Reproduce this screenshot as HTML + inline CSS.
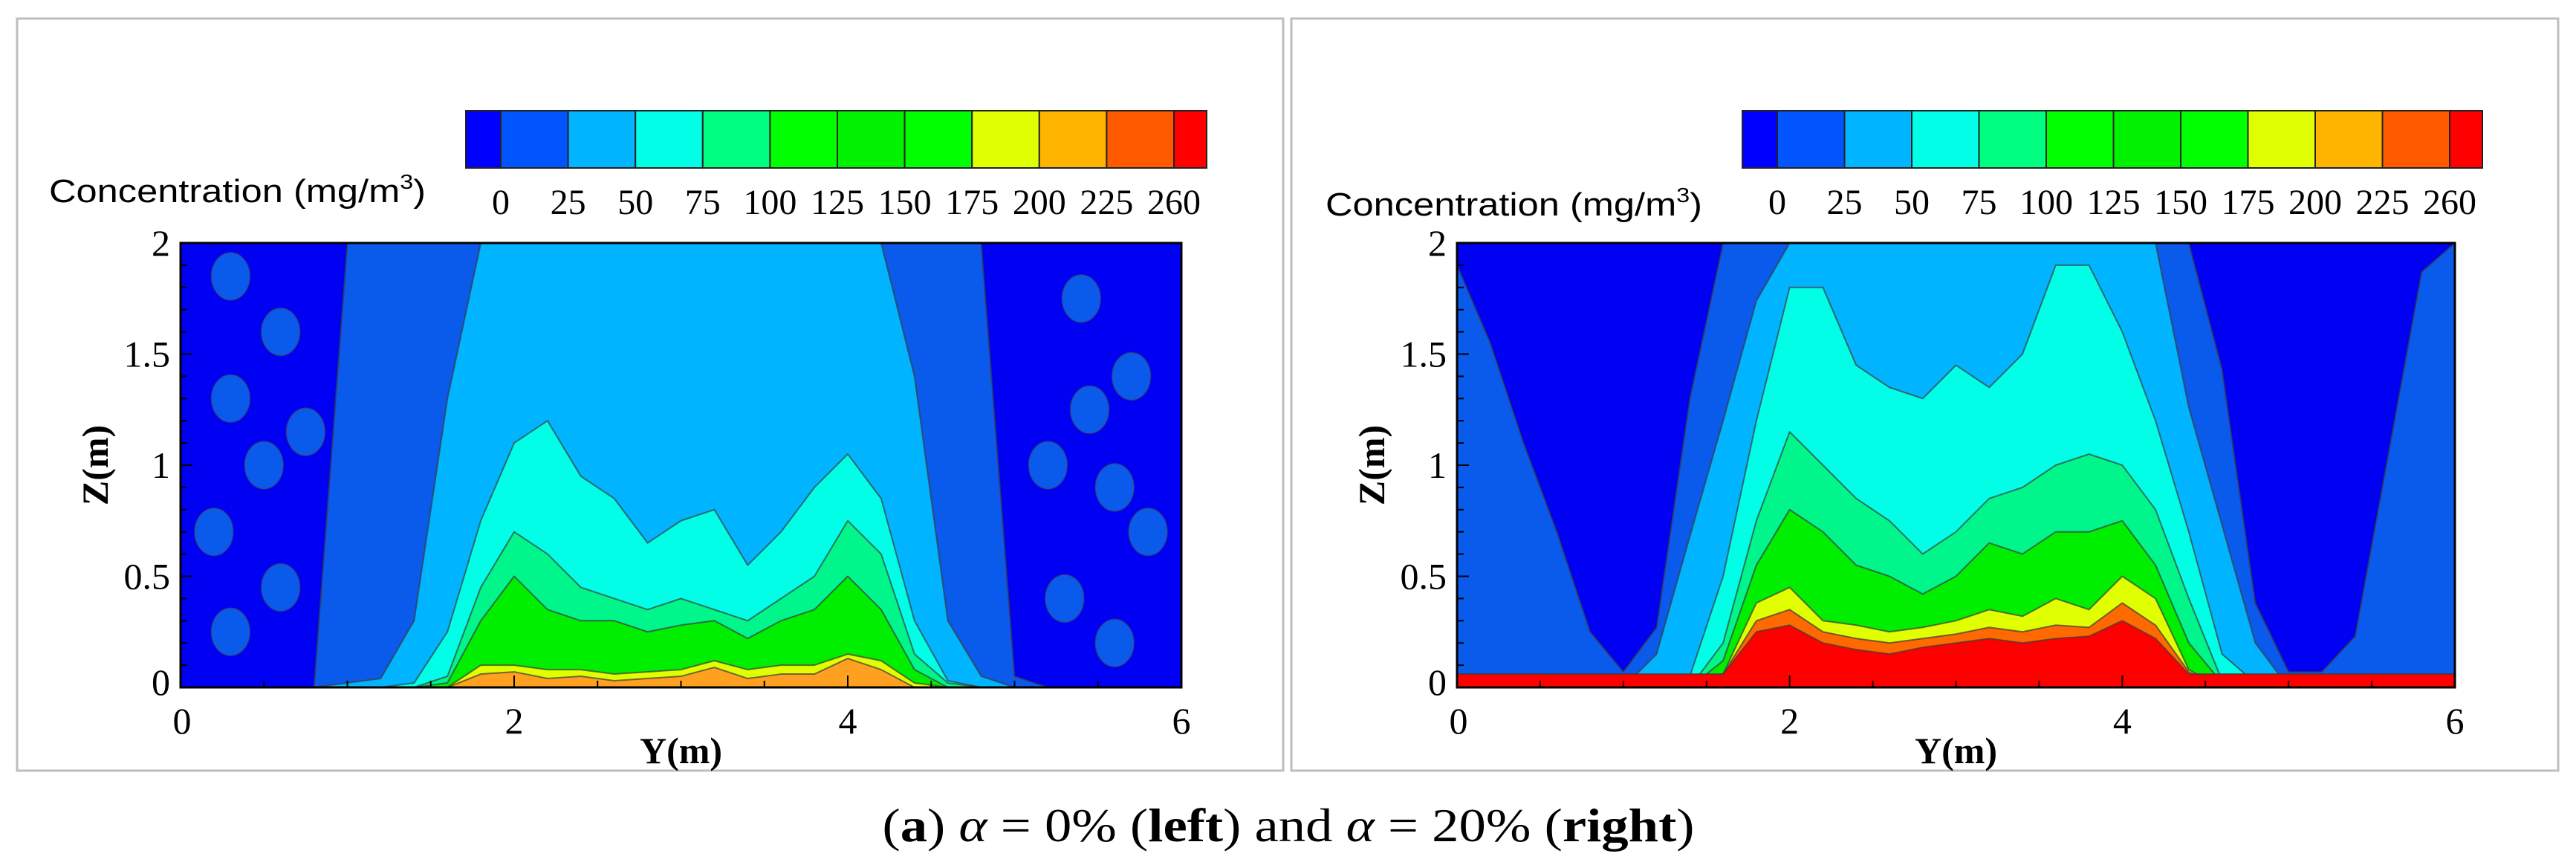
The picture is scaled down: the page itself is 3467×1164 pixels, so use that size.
<!DOCTYPE html>
<html><head><meta charset="utf-8"><style>
html,body{margin:0;padding:0;background:#fff;}
svg{display:block;}
.serif{font-family:"Liberation Serif","Times New Roman",serif;}
.sans{font-family:"Liberation Sans",Arial,sans-serif;}
</style></head><body>
<svg id="fig" width="3467" height="1164" viewBox="0 0 3467 1164" xmlns="http://www.w3.org/2000/svg">
<rect x="0" y="0" width="3467" height="1164" fill="#fff"/>
<rect x="23" y="25" width="1704" height="1012" fill="none" stroke="#bdbdbd" stroke-width="3"/>
<rect x="1738" y="25" width="1705" height="1012" fill="none" stroke="#bdbdbd" stroke-width="3"/>
<g id="left"></g>
<g id="right"></g>
<text class="serif" x="1734" y="1132" text-anchor="middle" font-size="64" textLength="1093" lengthAdjust="spacingAndGlyphs">(<tspan font-weight="bold">a</tspan>) <tspan font-style="italic">α</tspan> = 0% (<tspan font-weight="bold">left</tspan>) and <tspan font-style="italic">α</tspan> = 20% (<tspan font-weight="bold">right</tspan>)</text>
</svg>
<script>
// shared data
const yPos = [0,0.2,0.4,0.6,0.8,1.0,1.2,1.4,1.6,1.8,2.0,2.2,2.4,2.6,2.8,3.0,3.2,3.4,3.6,3.8,4.0,4.2,4.4,4.6,4.8,5.0,5.2,5.4,5.6,5.8,6.0];
const cbarLabels = ["0","25","50","75","100","125","150","175","200","225","260"];
const cbarColors = ["#0000ff","#0055ff","#00b4ff","#00ffe6","#00ff80","#00ff00","#00f200","#00ff00","#e0ff00","#ffb400","#ff5a00","#ff0000"];
const xTicks = [0,2,4,6];
const zTicks = [0,0.5,1,1.5,2];
const zTickLabels = ["0","0.5","1","1.5","2"];

// left panel (alpha = 0%) band tops (m)
const L_medBlue   = [0,0,0,0,0,2,2,2,2,2,2,2,2,2,2,2,2,2,2,2,2,2,2,2,2,0.05,0,0,0,0,0];
const L_lightBlue = [0,0,0,0,0,0.02,0.04,0.3,1.3,2,2,2,2,2,2,2,2,2,2,2,2,2,1.4,0.3,0.05,0,0,0,0,0,0];
const L_cyan      = [0,0,0,0,0,0,0,0.02,0.25,0.75,1.1,1.2,0.95,0.85,0.65,0.75,0.8,0.55,0.7,0.9,1.05,0.85,0.3,0.03,0,0,0,0,0,0,0];
const L_mint      = [0,0,0,0,0,0,0,0,0.05,0.45,0.7,0.6,0.45,0.4,0.35,0.4,0.35,0.3,0.4,0.5,0.75,0.6,0.15,0.02,0,0,0,0,0,0,0];
const L_green     = [0,0,0,0,0,0,0,0,0.02,0.3,0.5,0.35,0.3,0.3,0.25,0.28,0.3,0.22,0.3,0.35,0.5,0.35,0.08,0,0,0,0,0,0,0,0];
const L_yellow    = [0,0,0,0,0,0,0,0,0,0.1,0.1,0.08,0.08,0.06,0.07,0.08,0.12,0.08,0.1,0.1,0.15,0.12,0.02,0,0,0,0,0,0,0,0];
const L_orange    = [0,0,0,0,0,0,0,0,0,0.06,0.07,0.04,0.05,0.03,0.04,0.05,0.09,0.04,0.06,0.06,0.13,0.08,0,0,0,0,0,0,0,0,0];
const L_blobY = [0.3,0.6,0.3,0.5,0.2,0.6,0.3,0.75,5.4,5.7,5.2,5.6,5.3,5.6,5.8,5.45];
const L_blobZ = [1.85,1.6,1.3,1.0,0.7,0.45,0.25,1.15,1.75,1.4,1.0,0.9,0.4,0.2,0.7,1.25];

// right panel (alpha = 20%)
const R_darkLo    = [1.9,1.55,1.1,0.7,0.25,0.07,0.27,1.3,2,2,2,2,2,2,2,2,2,2,2,2,2,2,2,1.43,0.38,0.07,0.07,0.23,1.05,1.87,2];
const R_lightBlue = [0,0,0,0,0,0,0.15,0.68,1.2,1.74,2,2,2,2,2,2,2,2,2,2,2,2,1.26,0.73,0.2,0,0,0,0,0,0];
const R_cyan      = [0,0,0,0,0,0,0,0.05,0.5,1.2,1.8,1.8,1.45,1.35,1.3,1.45,1.35,1.5,1.9,1.9,1.6,1.2,0.7,0.15,0.02,0,0,0,0,0,0];
const R_mint      = [0,0,0,0,0,0,0,0,0.2,0.75,1.15,1.0,0.85,0.75,0.6,0.7,0.85,0.9,1.0,1.05,1.0,0.8,0.4,0.03,0,0,0,0,0,0,0];
const R_green     = [0,0,0,0,0,0,0,0,0.12,0.55,0.8,0.7,0.55,0.5,0.42,0.5,0.65,0.6,0.7,0.7,0.75,0.55,0.2,0.02,0,0,0,0,0,0,0];
const R_yellow    = [0,0,0,0,0,0,0,0,0.06,0.38,0.45,0.3,0.28,0.25,0.27,0.3,0.35,0.32,0.4,0.35,0.5,0.4,0.08,0,0,0,0,0,0,0,0];
const R_orange    = [0,0,0,0,0,0,0,0,0.06,0.3,0.35,0.25,0.22,0.2,0.22,0.24,0.27,0.25,0.28,0.27,0.38,0.28,0.07,0,0,0,0,0,0,0,0];
const R_red       = [0.06,0.06,0.06,0.06,0.06,0.06,0.06,0.06,0.06,0.25,0.28,0.2,0.17,0.15,0.18,0.2,0.22,0.2,0.22,0.23,0.3,0.22,0.06,0.06,0.06,0.06,0.06,0.06,0.06,0.06,0.06];

const NS = "http://www.w3.org/2000/svg";
function mk(parent, tag, attrs){
  const e = document.createElementNS(NS, tag);
  for (const k in attrs) e.setAttribute(k, attrs[k]);
  parent.appendChild(e);
  return e;
}

function drawPanel(g, P, bg, bands, blobsY, blobsZ, blobColor){
  const sx = v => P.x0 + (v/6)*(P.x1-P.x0);
  const sz = v => P.y1 - (v/2)*(P.y1-P.y0);
  const clipId = "clip"+P.id;
  const defs = mk(g,"defs",{});
  const cp = mk(defs,"clipPath",{id:clipId});
  mk(cp,"rect",{x:P.x0,y:P.y0,width:P.x1-P.x0,height:P.y1-P.y0});
  const plot = mk(g,"g",{"clip-path":"url(#"+clipId+")"});
  
  
  const bgr = mk(plot,"rect",{x:P.x0,y:P.y0,width:P.x1-P.x0,height:P.y1-P.y0,fill:bg});
  
  
  if (blobsY){
    for (let i=0;i<blobsY.length;i++){
      const b = mk(plot,"ellipse",{cx:sx(blobsY[i]),cy:sz(blobsZ[i]),rx:26,ry:32,fill:blobColor,stroke:"#444","stroke-width":1.5,"stroke-opacity":0.6});
      
      
    }
  }
  bands.forEach(bd=>{
    let pts = [];
    for (let i=0;i<yPos.length;i++) pts.push(sx(yPos[i])+","+sz(bd.hi ? bd.hi[i] : 2));
    for (let i=yPos.length-1;i>=0;i--) pts.push(sx(yPos[i])+","+sz(bd.lo ? bd.lo[i] : 0));
    const p = mk(plot,"polygon",{points:pts.join(" "),fill:bd.color,stroke:"#3a3a3a","stroke-width":2,"stroke-opacity":0.7,"stroke-linejoin":"round"});
    
    
  });
  const frame = mk(g,"rect",{x:P.x0,y:P.y0,width:P.x1-P.x0,height:P.y1-P.y0,fill:"none",stroke:"#000","stroke-width":3});
  
  
  for (let v=0; v<=6.001; v+=0.5){
    const major = Math.abs(v - Math.round(v/2)*2) < 1e-6;
    const len = major?16:9;
    const t1 = mk(g,"line",{x1:sx(v),x2:sx(v),y1:P.y1,y2:P.y1-len,stroke:"#000","stroke-width":2});
    
    
  }
  for (let v=0; v<=2.001; v+=0.1){
    const major = Math.abs(v*2 - Math.round(v*2)) < 1e-6;
    const len = major?16:9;
    const t2 = mk(g,"line",{x1:P.x0,x2:P.x0+len,y1:sz(v),y2:sz(v),stroke:"#000","stroke-width":2});
    
    
  }
  xTicks.forEach(v=>{
    const t = mk(g,"text",{class:"serif",x:sx(v)+(v===0?2:0),y:P.y1+62,"text-anchor":"middle","font-size":50});
    t.textContent = String(v);
    
    
  });
  zTicks.forEach((v,i)=>{
    const t = mk(g,"text",{class:"serif",x:P.x0-14,y:sz(v)+(i===0?10:17),"text-anchor":"end","font-size":50});
    t.textContent = zTickLabels[i];
    
    
  });
  const xl = mk(g,"text",{class:"serif",x:(P.x0+P.x1)/2,y:P.y1+102,"text-anchor":"middle","font-size":50,"font-weight":"bold"});
  xl.textContent = "Y(m)";
  
  
  const yl = mk(g,"text",{class:"serif",x:0,y:0,transform:"translate("+(P.x0-98)+","+((P.y0+P.y1)/2)+") rotate(-90)","text-anchor":"middle","font-size":50,"font-weight":"bold"});
  yl.textContent = "Z(m)";
  
  
  const cb = mk(g,"g",{});
  
  
  const half = 47, full = (P.cb1 - P.cb0 - 47 - 44)/10;
  let x = P.cb0;
  for (let k=0;k<cbarColors.length;k++){
    const w = k===0?half:(k===cbarColors.length-1?44:full);
    const r = mk(cb,"rect",{x:x,y:149,width:w,height:77,fill:cbarColors[k],stroke:"#222","stroke-width":2});
    
    
    x += w;
  }
  cbarLabels.forEach((lab,k)=>{
    const t = mk(cb,"text",{class:"serif",x:P.cb0+half+k*full,y:288,"text-anchor":"middle","font-size":48});
    t.textContent = lab;
    
    
  });
  const ct = mk(g,"text",{class:"sans",x:P.ctx,y:P.cty,"font-size":44,textLength:507,lengthAdjust:"spacingAndGlyphs"});
  ct.innerHTML = 'Concentration (mg/m<tspan font-size="28" dy="-18">3</tspan><tspan dy="18">)</tspan>';
  
  
}

drawPanel(document.getElementById("left"),
  {id:"L",x0:243,x1:1590,y0:327,y1:925,cb0:627,cb1:1624,ctx:66,cty:272},
  "#0000f2",
  [{hi:L_medBlue,color:"#0a5aeb",name:"band-0-25"},
   {hi:L_lightBlue,color:"#00b4ff",name:"band-25-50"},
   {hi:L_cyan,color:"#00ffe6",name:"band-50-75"},
   {hi:L_mint,color:"#00f58a",name:"band-75-100"},
   {hi:L_green,color:"#00ee00",name:"band-100-175"},
   {hi:L_yellow,color:"#e0ff00",name:"band-175-200"},
   {hi:L_orange,color:"#ffa020",name:"band-200-225"}],
  L_blobY, L_blobZ, "#0a5aeb");

drawPanel(document.getElementById("right"),
  {id:"R",x0:1961,x1:3304,y0:327,y1:925,cb0:2345,cb1:3341,ctx:1784,cty:290},
  "#0a5aeb",
  [{lo:R_darkLo,color:"#0000f2",name:"band-below-0"},
   {hi:R_lightBlue,color:"#00b4ff",name:"band-25-50"},
   {hi:R_cyan,color:"#00ffe6",name:"band-50-75"},
   {hi:R_mint,color:"#00f58a",name:"band-75-100"},
   {hi:R_green,color:"#00ee00",name:"band-100-175"},
   {hi:R_yellow,color:"#e0ff00",name:"band-175-200"},
   {hi:R_orange,color:"#ff6a00",name:"band-200-260"},
   {hi:R_red,color:"#ff0000",name:"band-260-plus"}],
  null, null, null);
</script>
</body></html>
